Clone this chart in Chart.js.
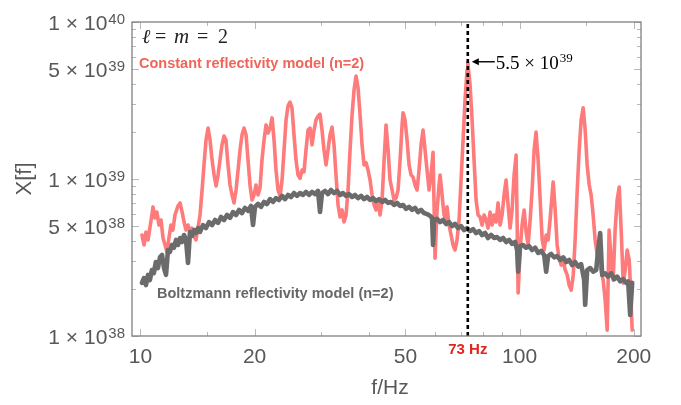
<!DOCTYPE html>
<html>
<head>
<meta charset="utf-8">
<script src="https://cdn.jsdelivr.net/npm/chart.js@4.4.1/dist/chart.umd.min.js"></script>
<style>
  html, body { margin: 0; padding: 0; background: #fff; }
  #wrap { width: 681px; height: 405px; position: relative; }
</style>
</head>
<body>
<div id="wrap"><canvas id="grafico"></canvas></div>
<script>
// X[f] values are in units of 10^38
const UNIT = 1e38;

// constant reflectivity model (n=2): frequencies (Hz) and X[f]
const constF = [10.09,10.22,10.34,10.47,10.59,10.72,10.79,10.92,11.05,11.19,
  11.33,11.47,11.61,11.75,11.89,12.03,12.18,12.33,12.56,12.72,
  12.88,13.03,13.19,13.35,13.51,13.67,13.84,14.01,14.18,14.36,
  14.54,14.71,14.89,15.08,15.26,15.45,15.64,15.83,16.02,16.21,
  16.41,16.61,16.81,17.02,17.23,17.44,17.65,17.87,18.09,18.31,
  18.53,18.76,18.99,19.22,19.45,19.69,19.93,20.17,20.42,20.67,
  20.92,21.18,21.44,21.70,21.97,22.24,22.51,22.78,23.06,23.35,
  23.63,23.92,24.21,24.50,24.80,25.10,25.41,25.72,26.04,26.36,
  26.68,27.00,27.33,27.67,28.01,28.35,28.70,29.05,29.40,29.76,
  30.12,30.49,30.86,31.24,31.62,32.01,32.40,32.79,33.20,33.61,
  34.02,34.43,34.85,35.28,35.71,36.15,36.59,37.04,37.49,37.95,
  38.41,38.88,39.36,39.84,40.33,40.82,41.32,41.83,42.34,42.85,
  43.38,43.91,44.44,44.99,45.53,46.09,46.65,47.22,47.80,48.39,
  48.98,49.27,49.87,50.48,51.10,51.72,52.36,52.99,53.64,54.30,
  54.96,55.63,56.31,57.00,57.70,58.40,59.12,59.48,59.84,60.57,
  61.31,61.69,62.44,63.20,63.97,64.36,65.15,65.95,66.75,67.57,
  68.39,69.23,70.08,70.94,71.80,72.68,73.0,74.02,74.93,75.84,
  76.77,77.71,78.66,79.62,80.60,81.58,82.57,83.58,84.60,85.64,
  86.68,87.74,88.82,89.90,91.00,92.11,93.24,94.39,95.54,96.71,
  97.89,98.49,99.1,100.3,101.5,102.8,104.0,105.3,106.6,107.9,
  109.2,110.5,111.9,113.3,114.7,116.1,117.5,118.9,120.3,121.8,
  122.6,124.1,125.6,127.1,128.7,130.3,131.9,133.5,135.1,136.8,
  138.5,140.1,141.9,143.6,145.3,147.1,148.9,150.7,152.6,154.4,
  156.3,158.2,160.2,162.1,164.1,166.1,168.1,170.2,172.2,174.4,
  176.5,178.6,180.8,183.1,185.3,187.6,189.9,192.2,194.5,195.7,
  198.1];
const constX = [4.40,3.80,4.60,4.09,4.87,5.90,6.64,5.65,6.16,5.09,
  5.48,4.21,3.80,3.43,4.21,5.09,4.73,5.90,6.73,7.04,
  6.16,5.32,4.73,5.09,4.60,4.87,4.34,4.09,4.87,5.90,
  8.51,12.3,17.7,21.1,17.7,13.2,10.6,9.03,10.6,13.2,
  16.5,18.8,17.7,12.3,9.16,7.91,7.04,8.51,11.4,15.3,
  19.1,21.1,19.1,13.2,9.16,7.35,7.91,9.16,7.91,8.77,
  13.2,17.7,22.1,19.6,21.1,24.5,17.7,11.4,8.51,7.80,
  9.85,15.3,23.8,29.2,30.9,28.4,19.1,13.2,10.6,10.1,
  11.4,11.1,15.3,20.5,21.1,16.5,20.5,23.8,25.2,25.9,
  20.5,15.3,12.3,15.3,19.1,21.4,16.5,10.6,6.83,5.73,
  6.35,5.32,5.90,8.51,15.3,25.6,36.9,45.3,38.0,25.6,
  16.5,12.3,12.7,11.4,9.85,7.91,6.83,6.35,7.35,5.90,
  7.35,13.2,22.1,15.3,9.85,8.51,7.35,7.56,8.51,13.2,
  22.1,26.4,23.8,17.7,12.3,10.6,10.3,9.16,8.51,11.4,
  16.5,20.5,15.3,11.4,8.51,10.6,14.8,6.83,3.13,6.35,
  9.16,10.6,7.91,5.90,5.48,6.64,5.09,4.40,3.80,3.53,
  4.09,5.48,9.85,17.7,31.9,49.5,55.0,39.7,23.8,13.2,
  7.35,5.90,5.73,5.09,5.90,5.48,4.87,6.16,5.09,5.90,
  5.32,7.04,5.09,5.90,7.91,9.85,6.83,4.87,6.35,10.6,
  14.2,5.48,1.88,3.53,5.09,6.35,4.60,3.80,5.48,8.51,
  15.3,19.9,13.2,7.35,4.09,3.53,4.40,4.09,5.48,7.91,
  9.58,6.35,3.80,3.13,2.83,3.05,2.63,2.45,2.11,1.96,
  2.45,4.09,8.51,15.3,23.8,28.4,20.5,12.3,9.16,7.91,
  5.90,4.09,3.28,2.99,2.63,2.27,1.70,1.09,4.73,3.05,
  2.27,4.73,7.35,8.9,4.73,2.17,2.63,3.53,3.05,2.27,
  1.09];

// Boltzmann reflectivity model (n=2)
const boltzF = [10.09,10.22,10.34,10.47,10.59,10.72,10.85,10.98,11.12,11.26,
  11.40,11.54,11.68,11.82,11.96,12.11,12.26,12.41,12.56,12.72,
  12.88,13.03,13.19,13.35,13.51,13.67,13.84,14.01,14.18,14.36,
  14.62,14.89,15.17,15.45,15.74,16.02,16.31,16.61,16.92,17.23,
  17.54,17.87,18.20,18.53,18.87,19.22,19.57,19.81,20.05,20.42,
  20.80,21.18,21.57,21.97,22.37,22.78,23.20,23.63,24.06,24.50,
  24.95,25.41,25.88,26.36,26.84,27.33,27.84,28.35,28.87,29.40,
  29.76,30.12,30.68,31.24,31.82,32.40,33.00,33.61,34.23,34.85,
  35.49,36.15,36.81,37.49,38.18,38.88,39.60,40.33,41.07,41.83,
  42.60,43.38,44.17,44.99,45.81,46.65,47.51,48.39,49.27,50.18,
  51.10,52.04,52.99,53.97,54.96,55.97,57.00,58.05,58.76,59.12,
  59.48,60.57,61.69,62.82,63.97,65.15,66.35,67.57,68.81,70.08,
  71.37,72.68,74.02,75.38,76.77,78.18,79.62,81.09,82.57,84.09,
  85.64,87.21,88.82,90.45,92.11,93.81,95.54,97.29,98.49,99.1,
  100.3,102.1,104.0,105.9,107.9,109.9,111.9,114.0,116.1,117.5,
  118.9,121.1,123.3,125.6,127.9,130.3,132.7,135.1,137.6,140.1,
  142.7,145.3,148.0,148.9,150.7,153.5,156.3,159.2,161.1,163.1,
  165.1,168.1,171.2,174.4,177.6,180.8,184.2,187.6,191.0,193.3,
  195.7,198.1];
const boltzX = [2.18,2.34,2.11,2.45,2.27,2.63,2.52,2.96,2.71,3.17,
  3.28,2.71,2.45,3.53,3.43,3.80,3.65,4.09,3.80,4.21,
  3.97,4.40,4.09,2.92,4.60,4.34,4.73,4.53,4.87,4.60,
  5.09,4.87,5.32,5.09,5.48,5.25,5.73,5.48,5.90,5.65,
  6.16,5.90,6.35,6.07,6.54,6.26,6.73,5.09,6.64,6.93,
  6.64,7.14,6.93,7.45,7.14,7.56,7.35,7.80,7.45,7.91,
  7.68,8.14,7.80,8.14,7.91,8.27,7.91,8.27,8.02,8.39,
  6.16,8.14,8.39,8.02,8.51,8.14,8.39,7.91,8.14,7.80,
  8.02,7.68,7.91,7.56,7.80,7.45,7.68,7.35,7.56,7.24,
  7.45,7.14,7.35,7.04,7.14,6.83,7.04,6.73,6.83,6.45,
  6.64,6.35,6.54,6.16,6.35,6.07,5.98,5.82,5.65,3.80,
  5.48,5.57,5.32,5.48,5.17,5.32,5.01,5.17,4.87,5.01,
  4.73,4.87,4.66,4.80,4.53,4.66,4.40,4.53,4.21,4.40,
  4.21,4.27,4.09,4.21,3.97,4.09,3.86,3.97,3.53,2.57,
  3.74,3.80,3.65,3.74,3.53,3.65,3.38,3.48,3.28,2.57,
  3.23,3.33,3.17,3.23,3.05,3.17,2.96,3.05,2.83,2.96,
  2.77,2.87,2.27,1.58,2.63,2.71,2.57,2.63,3.53,4.53,
  2.45,2.51,2.39,2.51,2.30,2.39,2.23,2.30,2.18,2.23,
  1.36,2.18];

// ticks
const xMajor = [10, 20, 50, 100, 200];
const xMinor = [15, 30, 40, 60, 70, 80, 90, 150];
const yMajor = [1e38, 5e38, 1e39, 5e39, 1e40];
const yMajorLabels = [['1 × 10', '38'], ['5 × 10', '38'], ['1 × 10', '39'], ['5 × 10', '39'], ['1 × 10', '40']];
const yMinor = [2e38, 3e38, 4e38, 6e38, 7e38, 8e38, 9e38, 2e39, 3e39, 4e39, 6e39, 7e39, 8e39, 9e39];

// marked frequency and its peak
const markF = 73;
const markPeak = 5.5e39;

const SANS = '"Liberation Sans", Arial, sans-serif';
const SERIF = '"Liberation Serif", "DejaVu Serif", serif';
const GRAY_TXT = '#585858';

function pares(fs, xs) {
  return fs.map((f, i) => ({ x: f, y: xs[i] * UNIT }));
}

// text with a superscript, right edge at xr (or left edge at xl)
function potencia(ctx, base, exp, xl, xr, baseY, supY, f1, f2) {
  ctx.font = f2; const we = ctx.measureText(exp).width;
  ctx.font = f1; const wb = ctx.measureText(base).width;
  const x0 = xl !== null ? xl : xr - we - wb - 1;
  ctx.textAlign = 'left';
  ctx.textBaseline = 'alphabetic';
  ctx.fillText(base, x0, baseY);
  ctx.font = f2;
  ctx.fillText(exp, x0 + wb + 1, supY);
}

const moldura = {
  id: 'moldura',
  afterDraw(chart) {
    const { ctx, chartArea: a, scales: { x, y } } = chart;
    ctx.save();

    // ticks inside the frame
    ctx.strokeStyle = '#b8b8b8';
    ctx.lineWidth = 1;
    const seg = (x1, y1, x2, y2) => { ctx.beginPath(); ctx.moveTo(x1, y1); ctx.lineTo(x2, y2); ctx.stroke(); };
    const tx = (v, len) => {
      const p = Math.round(x.getPixelForValue(v)) + 0.5;
      seg(p, a.bottom, p, a.bottom - len);
      seg(p, a.top, p, a.top + len);
    };
    const ty = (v, len) => {
      const p = Math.round(y.getPixelForValue(v)) + 0.5;
      seg(a.left, p, a.left + len, p);
      seg(a.right, p, a.right - len, p);
    };
    xMajor.forEach(v => tx(v, 7));
    xMinor.forEach(v => tx(v, 4));
    yMajor.forEach(v => ty(v, 7));
    yMinor.forEach(v => ty(v, 4));

    // frame
    ctx.strokeStyle = '#808080';
    ctx.lineWidth = 1.3;
    ctx.strokeRect(a.left, a.top, a.right - a.left, a.bottom - a.top);

    // tick labels
    ctx.fillStyle = GRAY_TXT;
    ctx.font = '21px ' + SANS;
    ctx.textAlign = 'center';
    ctx.textBaseline = 'alphabetic';
    xMajor.forEach(v => ctx.fillText(String(v), x.getPixelForValue(v), 363));
    yMajor.forEach((v, i) => {
      const p = y.getPixelForValue(v);
      potencia(ctx, yMajorLabels[i][0], yMajorLabels[i][1], null, 125, p + 8, p + 2, '21px ' + SANS, '15px ' + SANS);
    });

    // axis titles
    ctx.font = '21px ' + SANS;
    ctx.textAlign = 'center';
    ctx.textBaseline = 'middle';
    ctx.fillText('f/Hz', 390, 388);
    ctx.save();
    ctx.translate(25, 179);
    ctx.rotate(-Math.PI / 2);
    ctx.font = '22px ' + SANS;
    ctx.fillText('X[f]', 0, 0);
    ctx.restore();

    // 73 Hz label
    const mx = x.getPixelForValue(markF);
    ctx.fillStyle = '#e0261e';
    ctx.font = 'bold 15px ' + SANS;
    ctx.textAlign = 'center';
    ctx.textBaseline = 'alphabetic';
    ctx.fillText(markF + ' Hz', mx, 354);

    // model labels
    ctx.textAlign = 'left';
    ctx.font = 'bold 14.5px ' + SANS;
    ctx.fillStyle = '#f0655a';
    ctx.fillText('Constant reflectivity model (n=2)', 139, 68);
    ctx.fillStyle = '#676767';
    ctx.fillText('Boltzmann reflectivity model (n=2)', 157, 298);

    // l = m = 2
    ctx.fillStyle = '#222';
    ctx.font = 'italic 20px ' + SERIF;
    ctx.fillText('ℓ', 142, 43);
    ctx.font = 'italic 21px ' + SERIF;
    ctx.fillText('m', 174, 43);
    ctx.font = '20px ' + SERIF;
    ctx.fillText('=', 155, 43);
    ctx.fillText('=', 197, 43);
    ctx.fillText('2', 218, 43);

    // arrow to the peak
    const py = y.getPixelForValue(markPeak);
    ctx.strokeStyle = '#000';
    ctx.fillStyle = '#000';
    ctx.lineWidth = 1.4;
    seg(mx + 9, py - 1, mx + 27, py - 1);
    ctx.beginPath();
    ctx.moveTo(mx + 4, py - 1);
    ctx.lineTo(mx + 11, py - 4.5);
    ctx.lineTo(mx + 11, py + 2.5);
    ctx.closePath();
    ctx.fill();
    potencia(ctx, '5.5 × 10', '39', mx + 28, null, py + 6, py - 1, '19px ' + SERIF, '13px ' + SERIF);

    ctx.restore();
  }
};

const ctx = document.getElementById('grafico').getContext('2d');
new Chart(ctx, {
  type: 'line',
  data: {
    datasets: [
      {
        label: markF + ' Hz',
        data: [{ x: markF, y: 1e38 }, { x: markF, y: 1e40 }],
        borderColor: '#000',
        borderWidth: 2.6,
        borderDash: [4, 3],
        pointRadius: 0
      },
      {
        label: 'Boltzmann reflectivity model (n=2)',
        data: pares(boltzF, boltzX),
        borderColor: '#6b6b6b',
        borderWidth: 4.6,
        borderJoinStyle: 'round',
        borderCapStyle: 'round',
        pointRadius: 0,
        tension: 0
      },
      {
        label: 'Constant reflectivity model (n=2)',
        data: pares(constF, constX),
        borderColor: 'rgb(255,122,122)',
        borderWidth: 3.6,
        borderJoinStyle: 'round',
        borderCapStyle: 'round',
        pointRadius: 0,
        tension: 0
      }
    ]
  },
  options: {
    responsive: true,
    maintainAspectRatio: false,
    animation: false,
    layout: { padding: { left: 132, right: 40, top: 22, bottom: 69 } },
    plugins: { legend: { display: false }, tooltip: { enabled: false } },
    scales: {
      x: { type: 'logarithmic', min: 9.5, max: 209, display: false },
      y: { type: 'logarithmic', min: 1e38, max: 1e40, display: false }
    }
  },
  plugins: [moldura]
});
</script>
</body>
</html>
